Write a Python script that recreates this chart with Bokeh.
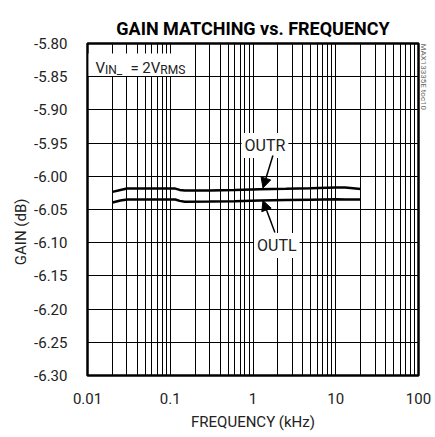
from bokeh.plotting import figure
from bokeh.models import (Range1d, FixedTicker, Label, BoxAnnotation, Arrow, NormalHead,
                          LinearAxis)
from bokeh.embed import file_html
from bokeh.resources import INLINE

# ---- data ----
freq_khz = [0.02, 0.025, 0.03, 0.05, 0.08, 0.115, 0.13, 0.15, 0.3, 0.6, 1.2, 2.5, 5, 10, 13, 20]
outr_db = [-6.0235, -6.0205, -6.0185, -6.0185, -6.0185, -6.0185, -6.0205, -6.0215,
           -6.0212, -6.0205, -6.0195, -6.0188, -6.0180, -6.0168, -6.0170, -6.0190]
outl_db = [-6.0395, -6.0365, -6.0350, -6.0350, -6.0350, -6.0350, -6.0370, -6.0382,
           -6.0380, -6.0375, -6.0365, -6.0358, -6.0352, -6.0346, -6.0348, -6.0350]

x_ticks = [0.01, 0.1, 1, 10, 100]
x_tick_labels = ["0.01", "0.1", "1", "10", "100"]
y_ticks = [-6.30, -6.25, -6.20, -6.15, -6.10, -6.05, -6.00, -5.95, -5.90, -5.85, -5.80]
y_tick_labels = ["-6.30", "-6.25", "-6.20", "-6.15", "-6.10", "-6.05", "-6.00",
                 "-5.95", "-5.90", "-5.85", "-5.80"]

FONT = "Roboto"
TXT = "#222222"

p = figure(width=435, height=437, x_axis_type="log",
           x_range=Range1d(0.01, 100), y_range=Range1d(-6.30, -5.80),
           output_backend="svg", toolbar_location=None,
           min_border_left=87, min_border_right=16, min_border_top=43, min_border_bottom=62)
p.background_fill_color = "white"
p.border_fill_color = "white"
p.outline_line_color = "black"
p.outline_line_width = 2.5

p.title.text = "GAIN MATCHING vs. FREQUENCY"
p.title.align = "center"
p.title.text_font = FONT
p.title.text_font_size = "18px"
p.title.text_font_style = "bold"
p.title.text_color = "black"

minor_x = [m * d for d in [0.01, 0.1, 1, 10] for m in range(2, 10)]
p.xaxis.ticker = FixedTicker(ticks=x_ticks, minor_ticks=minor_x)
p.xaxis.major_label_overrides = {t: l for t, l in zip(x_ticks, x_tick_labels)}
p.yaxis.ticker = FixedTicker(ticks=y_ticks)
p.yaxis.major_label_overrides = {t: l for t, l in zip(y_ticks, y_tick_labels)}

for ax in (p.xaxis, p.yaxis):
    ax.axis_line_color = None
    ax.major_tick_line_color = None
    ax.minor_tick_line_color = None
    ax.major_label_text_font = FONT
    ax.major_label_text_font_size = "15px"
    ax.major_label_text_color = TXT
    ax.axis_label_text_font = FONT
    ax.axis_label_text_font_size = "15px"
    ax.axis_label_text_font_style = "normal"
    ax.axis_label_text_color = TXT
p.xaxis.major_label_standoff = 11
p.yaxis.major_label_standoff = 14
p.xaxis.axis_label = "FREQUENCY (kHz)"
p.xaxis.axis_label_standoff = 6
p.yaxis.axis_label = "GAIN (dB)" + "\u00a0" * 12
p.yaxis.axis_label_standoff = 1

# small figure id on the right edge
rax = LinearAxis(ticker=FixedTicker(ticks=[]), axis_label="MAX13335E toc10",
                 axis_line_color=None, major_tick_line_color=None,
                 minor_tick_line_color=None, major_label_text_font_size="0px",
                 major_label_standoff=0, major_tick_out=0, major_tick_in=0,
                 minor_tick_out=0, minor_tick_in=0,
                 axis_label_text_font=FONT, axis_label_text_font_size="8px",
                 axis_label_text_font_style="normal", axis_label_text_color="#666666",
                 axis_label_standoff=5)
try:
    rax.axis_label_orientation = -1.5708
except Exception:
    pass
try:
    rax.axis_label_align = "end"
except Exception:
    pass
p.add_layout(rax, "right")

p.xgrid.grid_line_color = "black"
p.xgrid.grid_line_width = 1
p.xgrid.minor_grid_line_color = "black"
p.xgrid.minor_grid_line_width = 1
p.ygrid.grid_line_color = "black"
p.ygrid.grid_line_width = 1

p.line(freq_khz, outr_db, line_color="black", line_width=2.5)
p.line(freq_khz, outl_db, line_color="black", line_width=2.5)

# white box behind the condition text
p.add_layout(BoxAnnotation(left=0.0103, right=0.189, top=-5.815, bottom=-5.849,
                           fill_color="white", fill_alpha=1.0, line_color=None))

def txt(x, y, s, size, align="left", baseline="alphabetic", bg=None):
    lab = Label(x=x, y=y, text=s, text_font=FONT, text_font_size=size,
                text_align=align, text_baseline=baseline, text_color=TXT)
    if bg:
        lab.background_fill_color = bg
        lab.padding = 3
    p.add_layout(lab)

txt(0.01249, -5.8371, "V", "15px")
txt(0.01625, -5.8392, "IN_", "12px")
txt(0.0330, -5.8371, "= 2V", "15px")
txt(0.0758, -5.8392, "RMS", "12px")

txt(1.395, -5.9536, "OUTR", "16px", align="center", baseline="middle", bg="white")
txt(1.94, -6.1042, "OUTL", "16px", align="center", baseline="middle", bg="white")

p.add_layout(Arrow(end=NormalHead(size=10, fill_color="black", line_color="black"),
                   x_start=1.74, y_start=-5.9687, x_end=1.32, y_end=-6.0176,
                   line_color="black", line_width=1.5))
p.add_layout(Arrow(end=NormalHead(size=10, fill_color="black", line_color="black"),
                   x_start=1.84, y_start=-6.0846, x_end=1.32, y_end=-6.0365,
                   line_color="black", line_width=1.5))

open("out.html", "w").write(file_html(p, INLINE))
